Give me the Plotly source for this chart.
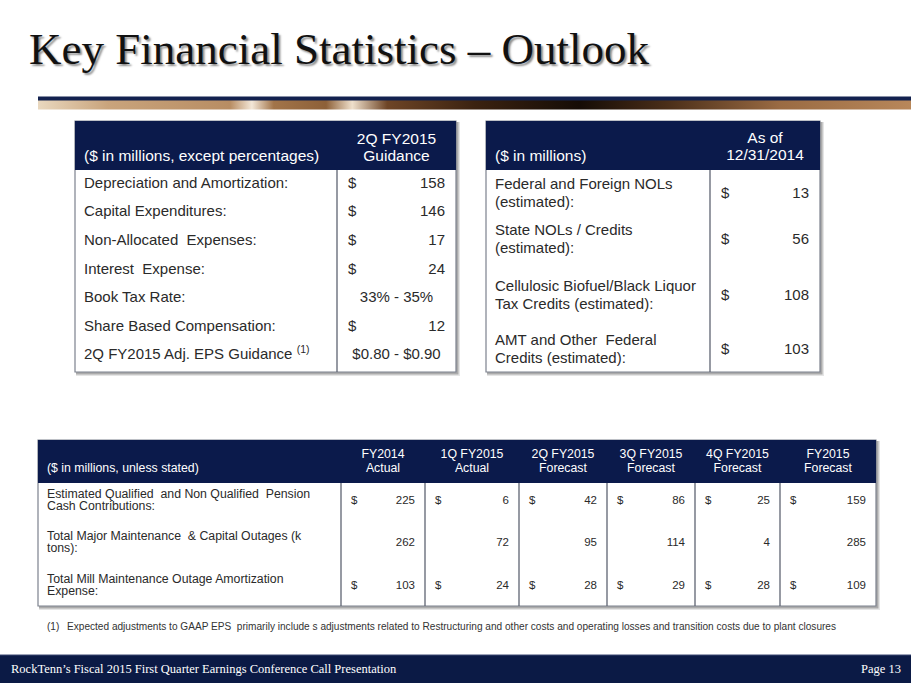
import plotly.graph_objects as go

W, H = 911, 683

# ---------------- data ----------------
title_text = "Key Financial Statistics – Outlook"
footer_left = "RockTenn’s Fiscal 2015 First Quarter Earnings Conference Call Presentation"
footer_right = "Page 13"
footnote_mark = "(1)"
footnote_text = ("Expected adjustments to GAAP EPS  primarily include s adjustments related to Restructuring "
                 "and other costs and operating losses and transition costs due to plant closures")

# Table 1
t1_header_left = "($ in millions, except percentages)"
t1_header_right = ["2Q FY2015", "Guidance"]
t1_labels = ["Depreciation and Amortization:", "Capital Expenditures:", "Non-Allocated  Expenses:",
             "Interest  Expense:", "Book Tax Rate:", "Share Based Compensation:",
             "2Q FY2015 Adj. EPS Guidance <sup>(1)</sup>"]
t1_amounts = [158, 146, 17, 24, None, 12, None]
t1_ranges = [None, None, None, None, "33% - 35%", None, "$0.80 - $0.90"]

# Table 2
t2_header_left = "($ in millions)"
t2_header_right = ["As of", "12/31/2014"]
t2_labels = [["Federal and Foreign NOLs", "(estimated):"],
             ["State NOLs / Credits", "(estimated):"],
             ["Cellulosic Biofuel/Black Liquor", "Tax Credits (estimated):"],
             ["AMT and Other  Federal", "Credits (estimated):"]]
t2_amounts = [13, 56, 108, 103]

# Table 3
t3_header_left = "($ in millions, unless stated)"
t3_periods = ["FY2014", "1Q FY2015", "2Q FY2015", "3Q FY2015", "4Q FY2015", "FY2015"]
t3_kinds = ["Actual", "Actual", "Forecast", "Forecast", "Forecast", "Forecast"]
t3_labels = [["Estimated Qualified  and Non Qualified  Pension", "Cash Contributions:"],
             ["Total Major Maintenance  & Capital Outages (k", "tons):"],
             ["Total Mill Maintenance Outage Amortization", "Expense:"]]
t3_pension = [225, 6, 42, 86, 25, 159]
t3_outages = [262, 72, 95, 114, 4, 285]
t3_amort = [103, 24, 28, 29, 28, 109]
t3_rows = [t3_pension, t3_outages, t3_amort]
t3_dollar = [True, False, True]

# ---------------- style / geometry ----------------
NAVY = "#0b1a4b"
BORDER = "#7c818e"
TXT = "#2a2a2a"
SANS = "Liberation Sans, Arial, sans-serif"
SERIF = "Liberation Serif, Times New Roman, serif"
FSH = 15.5   # header text size (top tables)
FS = 15.0    # body text size (top tables)
FS3 = 12.3

fig = go.Figure()
shapes = []
annotations = []


def text(xs, ys, texts, pos, size, color=TXT, family=SANS):
    fig.add_trace(go.Scatter(x=xs, y=ys, text=texts, mode="text", textposition=pos,
                             textfont=dict(size=size, color=color, family=family),
                             hoverinfo="skip", showlegend=False, cliponaxis=False))


def box(x0, y0, x1, y1, yh):
    # shadow
    shapes.append(dict(type="rect", xref="x", yref="y", x0=x0 + 1, y0=y0 + 1, x1=x1 + 4, y1=y1 + 4,
                       fillcolor="rgba(0,0,0,0.10)", line=dict(width=0), layer="below"))
    shapes.append(dict(type="rect", xref="x", yref="y", x0=x0 + 1, y0=y0 + 1, x1=x1 + 2.5, y1=y1 + 2.5,
                       fillcolor="rgba(0,0,0,0.25)", line=dict(width=0), layer="below"))
    shapes.append(dict(type="rect", xref="x", yref="y", x0=x0, y0=y0, x1=x1, y1=y1,
                       fillcolor="white", line=dict(color=BORDER, width=1.2), layer="below"))
    shapes.append(dict(type="rect", xref="x", yref="y", x0=x0, y0=y0, x1=x1, y1=yh,
                       fillcolor=NAVY, line=dict(width=0), layer="below"))


def vline(x, y0, y1):
    shapes.append(dict(type="line", xref="x", yref="y", x0=x, x1=x, y0=y0, y1=y1,
                       line=dict(color="#5f6472", width=1.3), layer="below"))


# ---------- decorative band under title ----------
fig.add_trace(go.Scatter(
    x=[38, 911, 911, 38, 38], y=[100, 100, 109.5, 109.5, 100], fill="toself", mode="none",
    fillgradient=dict(type="horizontal", colorscale=[
        [0.0, "#e9d8bf"], [0.08, "#c9a47c"], [0.22, "#b88d63"], [0.245, "#f3e7d8"],
        [0.27, "#a27449"], [0.33, "#8d6038"], [0.36, "#efe0cc"], [0.40, "#6e4526"],
        [0.50, "#3b2210"], [0.62, "#150c06"], [0.72, "#4a2e18"], [0.85, "#9a6b43"],
        [1.0, "#b8875a"]]),
    hoverinfo="skip", showlegend=False))
shapes.append(dict(type="rect", xref="x", yref="y", x0=38, x1=911, y0=96.5, y1=100.5,
                   fillcolor="#13224f", line=dict(width=0)))

# ---------- title ----------
annotations.append(dict(xref="x", yref="y", x=27, y=49, text=title_text, showarrow=False,
                        xanchor="left", yanchor="middle",
                        font=dict(family=SERIF, size=45, color="#111111",
                                  shadow="2px 2px 2px rgba(0,0,0,0.45)")))

# ---------- Table 1 ----------
T1x0, T1x1, T1y0, T1yh, T1y1, T1div = 75, 456, 121, 170, 372, 337
box(T1x0, T1y0, T1x1, T1y1, T1yh)
vline(T1div, T1yh, T1y1)
t1c = (T1div + T1x1) / 2
text([T1x0 + 9], [157], [t1_header_left], "middle right", FSH, "white")
text([t1c, t1c], [140, 157], t1_header_right, "middle center", FSH, "white")
t1_y = [184 + 28.6 * i for i in range(len(t1_labels))]
text([T1x0 + 9] * len(t1_labels), t1_y, t1_labels, "middle right", FS)
ds_y = [y for y, a in zip(t1_y, t1_amounts) if a is not None]
ds_v = [str(a) for a in t1_amounts if a is not None]
text([T1div + 11] * len(ds_y), ds_y, ["$"] * len(ds_y), "middle right", FS)
text([T1x1 - 11] * len(ds_y), ds_y, ds_v, "middle left", FS)
rg_y = [y for y, r in zip(t1_y, t1_ranges) if r is not None]
rg_v = [r for r in t1_ranges if r is not None]
text([t1c] * len(rg_y), rg_y, rg_v, "middle center", FS)

# ---------- Table 2 ----------
T2x0, T2x1, T2y0, T2yh, T2y1, T2div = 486, 820, 121, 170, 372, 710
box(T2x0, T2y0, T2x1, T2y1, T2yh)
vline(T2div, T2yh, T2y1)
t2c = (T2div + T2x1) / 2
text([T2x0 + 9], [157], [t2_header_left], "middle right", FSH, "white")
text([t2c, t2c], [139, 156], t2_header_right, "middle center", FSH, "white")
t2_y = [194, 240, 296, 350]
lx, ly, lt = [], [], []
for y, lines in zip(t2_y, t2_labels):
    for k, ln in enumerate(lines):
        lx.append(T2x0 + 9)
        ly.append(y - 9 + 18 * k)
        lt.append(ln)
text(lx, ly, lt, "middle right", FS)
text([T2div + 11] * 4, t2_y, ["$"] * 4, "middle right", FS)
text([T2x1 - 11] * 4, t2_y, [str(v) for v in t2_amounts], "middle left", FS)

# ---------- Table 3 ----------
T3x0, T3x1, T3y0, T3yh, T3y1 = 38, 876, 440, 483, 606
t3_div = [341, 425, 519, 607, 695, 780]
box(T3x0, T3y0, T3x1, T3y1, T3yh)
for d in t3_div:
    vline(d, T3yh, T3y1)
edges = t3_div + [T3x1]
centers = [(edges[i] + edges[i + 1]) / 2 for i in range(len(t3_div))]
text([T3x0 + 9], [469], [t3_header_left], "middle right", FS3, "white")
text(centers, [455] * 6, t3_periods, "middle center", FS3, "white")
text(centers, [469] * 6, t3_kinds, "middle center", FS3, "white")
t3_y = [501, 543, 586]
lx, ly, lt = [], [], []
for y, lines in zip(t3_y, t3_labels):
    for k, ln in enumerate(lines):
        lx.append(T3x0 + 9)
        ly.append(y - 6.3 + 12.6 * k)
        lt.append(ln)
text(lx, ly, lt, "middle right", FS3)
for r, (vals, has_d) in enumerate(zip(t3_rows, t3_dollar)):
    y = t3_y[r]
    if has_d:
        text([edges[i] + 10 for i in range(6)], [y] * 6, ["$"] * 6, "middle right", FS3 - 0.8)
    text([edges[i + 1] - 10 for i in range(6)], [y] * 6, [str(v) for v in vals], "middle left", FS3 - 0.8)

# ---------- footnote ----------
text([47], [627], [footnote_mark], "middle right", 10.1, "#333333")
text([67], [627], [footnote_text], "middle right", 10.1, "#333333")

# ---------- footer ----------
shapes.append(dict(type="rect", xref="x", yref="y", x0=0, x1=911, y0=655, y1=683,
                   fillcolor="#0b1a45", line=dict(width=0)))
shapes.append(dict(type="line", xref="x", yref="y", x0=0, x1=911, y0=655, y1=655,
                   line=dict(color="#3a4670", width=1)))
annotations.append(dict(xref="x", yref="y", x=9, y=669, text=footer_left, showarrow=False,
                        xanchor="left", yanchor="middle",
                        font=dict(family=SERIF, size=12.5, color="white")))
annotations.append(dict(xref="x", yref="y", x=903, y=669, text=footer_right, showarrow=False,
                        xanchor="right", yanchor="middle",
                        font=dict(family=SERIF, size=12.5, color="white")))

fig.update_layout(
    width=W, height=H, margin=dict(l=0, r=0, t=0, b=0),
    paper_bgcolor="white", plot_bgcolor="white",
    xaxis=dict(range=[0, W], visible=False, fixedrange=True),
    yaxis=dict(range=[H, 0], visible=False, fixedrange=True),
    shapes=shapes, annotations=annotations, hovermode=False, showlegend=False,
)

fig.write_html(
    "out.html", config={"displayModeBar": False},
    post_script="document.body.style.margin='0';document.body.style.padding='0';"
                "document.body.style.overflow='hidden';",
)
